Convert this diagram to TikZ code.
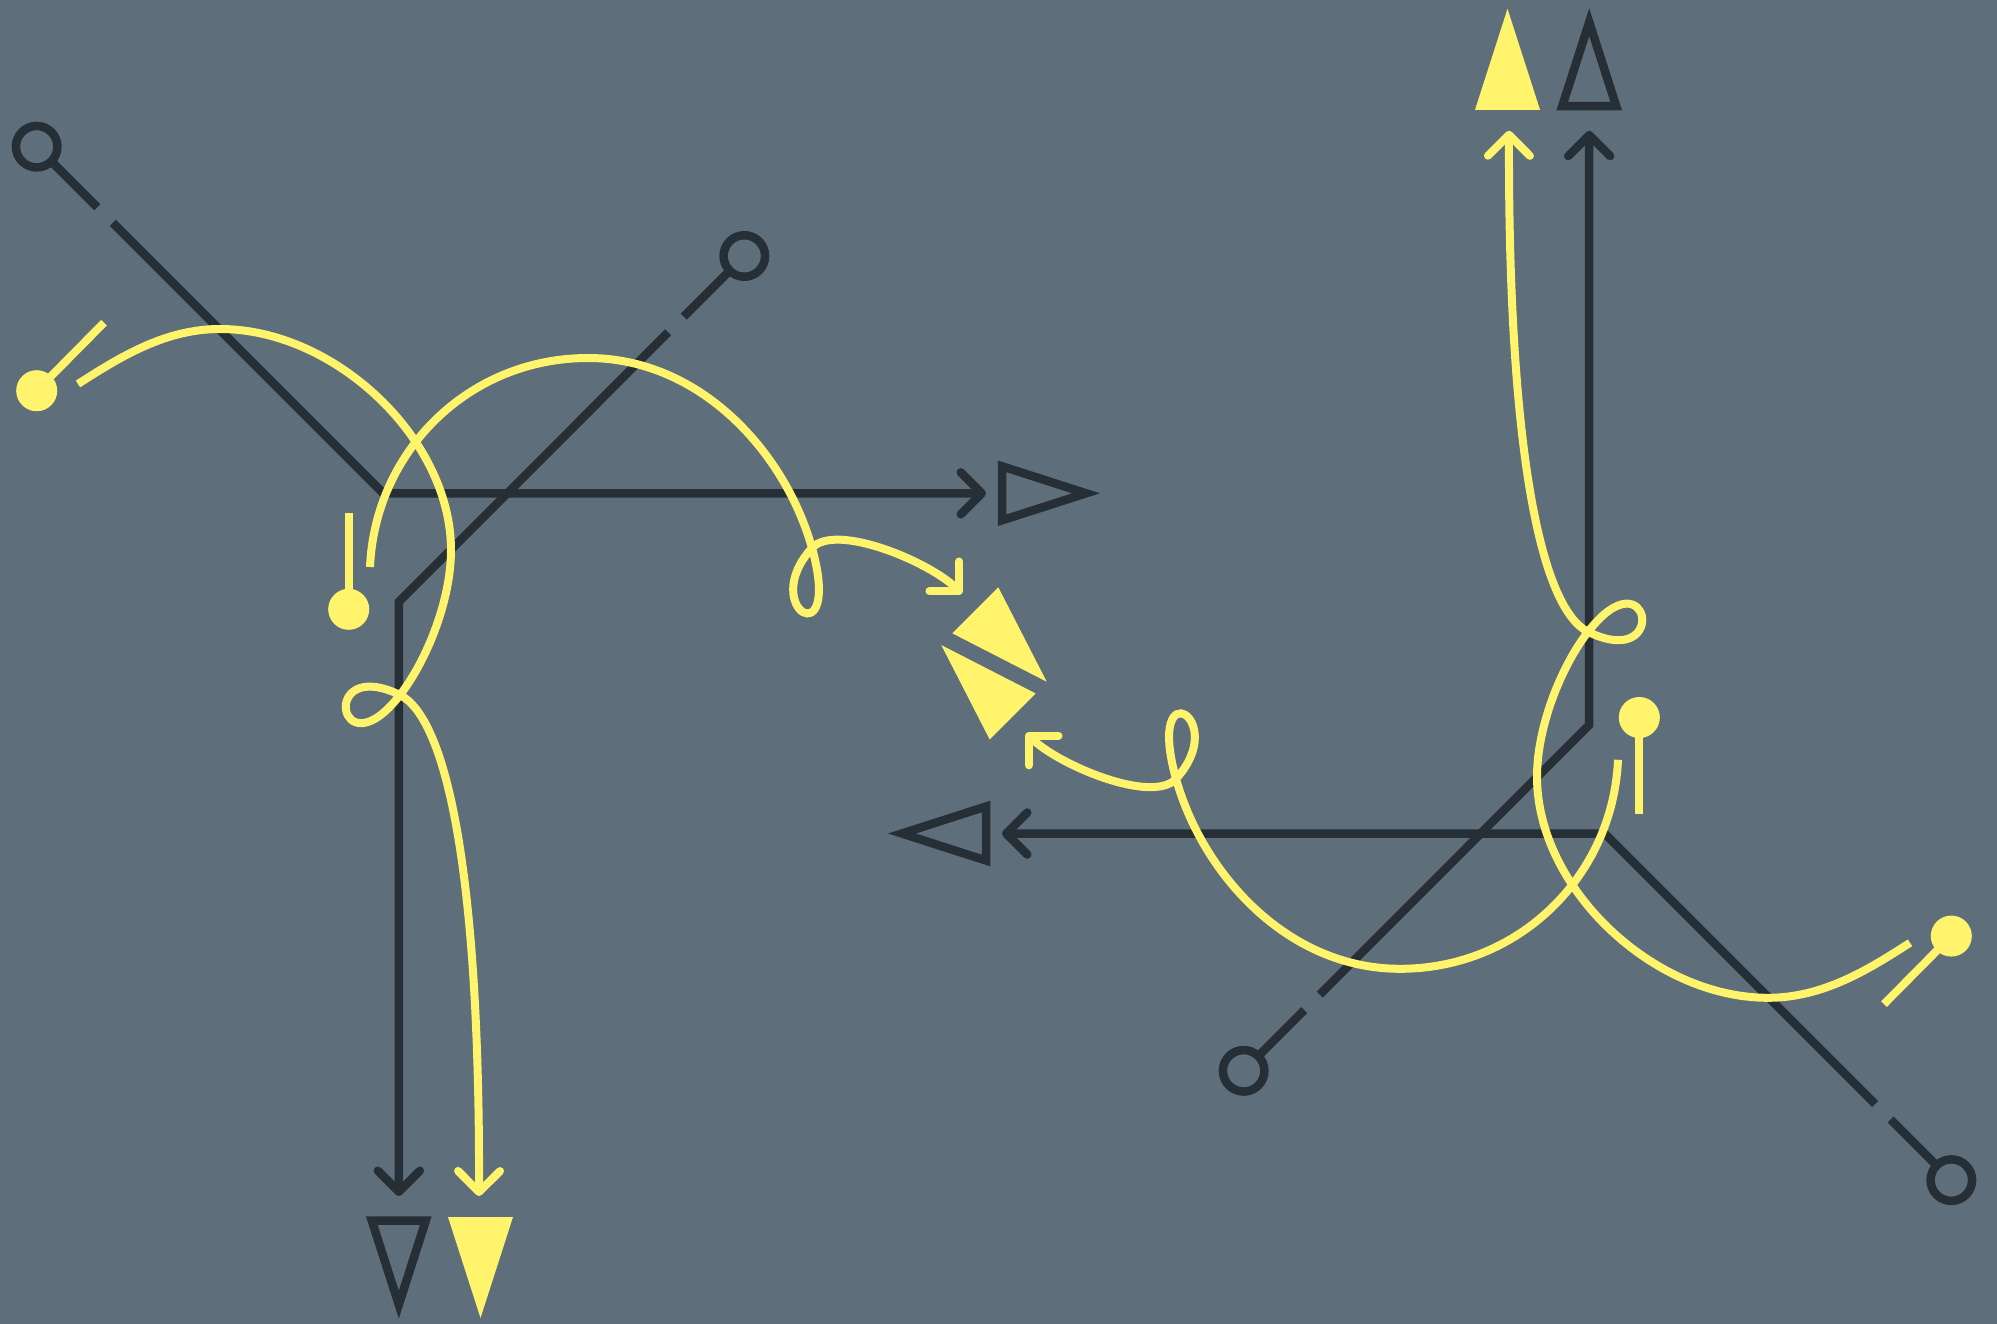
\documentclass[tikz,border=0pt]{standalone}
\usetikzlibrary{arrows.meta}

\definecolor{slate}{RGB}{94,111,123}
\definecolor{ink}{RGB}{38,46,54}
\definecolor{lemon}{RGB}{255,244,108}

\tikzset{
  wire/.style={draw=ink, line width=8.5pt},
  trail/.style={draw=lemon, line width=8pt},
  broken/.style={dash pattern=on 65pt off 22pt on 4000pt},
  ring to barb/.style={{Circle[open,length=50pt]}-{Straight Barb[length=21pt,width=42pt,round]}},
  dot start/.style={{Circle[length=41pt]}-},
  barb end/.style={-{Straight Barb[length=21pt,width=42pt,round]}},
  hollow tri/.style={draw=ink, line width=8.5pt, line join=miter},
  solid tri/.style={fill=lemon},
}

\begin{document}
\begin{tikzpicture}[x=1pt, y=1pt]
\fill[slate] (0,0) rectangle (1997,-1324);
\coordinate (mid) at (994,-663.4);

\foreach \turn in {0,180} {
\begin{scope}[rotate around={\turn:(mid)}]
	% straight wires
	\coordinate (ring1) at (19,-129);
	\coordinate (knee1) at (383.3,-493.3);
	\coordinate (head1) at (986,-493.3);
	\coordinate (ring2) at (762,-238.3);
	\coordinate (knee2) at (398.8,-601.9);
	\coordinate (head2) at (398.8,-1196);

	\draw[wire, broken, ring to barb] (ring1) -- (knee1) -- (head1);
	\draw[wire, broken, ring to barb] (ring2) -- (knee2) -- (head2);
	\draw[hollow tri] (1086,-493.3) -- (1002,-466.3) -- (1002,-520.3) -- cycle;
	\draw[hollow tri] (398.8,-1304.6) -- (371.8,-1220.6) -- (425.8,-1220.6) -- cycle;

	% first trail, with the small loop
	\coordinate (dot1) at (22.3,-405.3);
	\coordinate (stub1) at (104,-322.7);
	\coordinate (tail1) at (78,-384);
	\coordinate (top1) at (220,-329);
	\coordinate (side1) at (451,-550);
	\coordinate (loop1) at (400,-695);
	\coordinate (neck1) at (479,-1196);

	\draw[trail, dot start] (dot1) -- (stub1);
	\draw[trail, barb end] (tail1)
		.. controls (120,-357) and (165,-329) .. (top1)
		.. controls (335,-329) and (451,-439) .. (side1)
		.. controls (451,-600) and (427,-660) .. (loop1)
		.. controls (338,-775) and (318,-655) .. (loop1)
		.. controls (446,-718) and (480,-870) .. (neck1);
	\fill[solid tri] (480.5,-1318) -- (448,-1217) -- (513,-1217) -- cycle;

	% second trail
	\coordinate (dot2) at (348.7,-629.8);
	\coordinate (stub2) at (348.7,-513.3);
	\coordinate (tail2) at (370,-567);
	\coordinate (top2) at (588,-358);
	\coordinate (loop2) at (812,-548);
	\coordinate (neck2) at (962,-594);

	\draw[trail, dot start] (dot2) -- (stub2);
	\draw[trail, barb end] (tail2)
		.. controls (375,-452) and (468,-358) .. (top2)
		.. controls (700,-358) and (785,-452) .. (loop2)
		.. controls (843,-659) and (757,-608) .. (loop2)
		.. controls (835.7,-522.2) and (930,-562) .. (neck2);
	\fill[solid tri] (1046.7,-681.7) -- (998.3,-587.3) -- (952.3,-633.3) -- cycle;
\end{scope}
}
\end{tikzpicture}
\end{document}
